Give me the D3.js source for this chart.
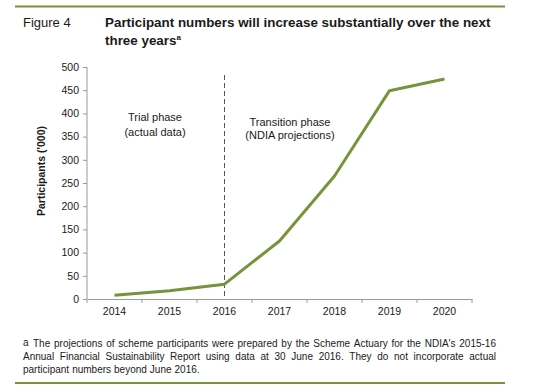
<!DOCTYPE html>
<html><head><meta charset="utf-8">
<script src="https://cdn.jsdelivr.net/npm/d3@7"></script>
<style>
body{margin:0;background:#fff;}
text{font-family:"Liberation Sans",Arial,sans-serif;}
</style></head>
<body><svg id="c" width="537" height="392"></svg>
<script>
const years = ["2014","2015","2016","2017","2018","2019","2020"];
const participants = [8, 18, 32, 125, 265, 449, 474];
const yTicks = [0,50,100,150,200,250,300,350,400,450,500];
const dividerYear = "2016";
const titleLines = ["Participant numbers will increase substantially over the next", "three years"];
const footLines = [
 ["The projections of scheme participants were prepared by the Scheme Actuary for the NDIA's 2015-16", true],
 ["Annual Financial Sustainability Report using data at 30 June 2016. They do not incorporate actual", true],
 ["participant numbers beyond June 2016.", false]
];

const svg = d3.select("#c");
const green = "#77933c";
const ink = "#1a1a1a";

// rules
svg.append("line").attr("x1",15).attr("x2",505).attr("y1",6.5).attr("y2",6.5).attr("stroke",green).attr("stroke-width",2);
svg.append("line").attr("x1",15).attr("x2",505).attr("y1",383).attr("y2",383).attr("stroke",green).attr("stroke-width",2);

// title
svg.append("text").attr("x",23).attr("y",27).attr("font-size",13).attr("fill",ink).text("Figure 4");
svg.append("text").attr("x",105).attr("y",27).attr("font-size",13.4).attr("font-weight","bold").attr("fill",ink).text(titleLines[0]);
const t2 = svg.append("text").attr("x",105).attr("y",45).attr("font-size",13.4).attr("font-weight","bold").attr("fill",ink);
t2.append("tspan").text(titleLines[1]);
t2.append("tspan").attr("font-size",8).attr("dy",-5).text("a");

// scales
const x = d3.scaleBand().domain(years).range([87,472]);
const y = d3.scaleLinear().domain([0,500]).range([299,67]);

// axes
const gy = svg.append("g").attr("transform","translate(87,0)")
  .call(d3.axisLeft(y).tickValues(yTicks).tickSize(4).tickPadding(4));
gy.select(".domain").attr("stroke","#999").attr("d","M0,67V299");
gy.selectAll(".tick line").attr("stroke","#999");
gy.selectAll("text").attr("font-size",10.5).attr("fill",ink).attr("font-family","Liberation Sans, Arial, sans-serif");

const gx = svg.append("g").attr("transform","translate(0,299)")
  .call(d3.axisBottom(x).tickSize(0).tickPadding(9));
gx.select(".domain").attr("stroke","#999");
gx.selectAll("text").attr("font-size",10.5).attr("fill",ink).attr("font-family","Liberation Sans, Arial, sans-serif");
// category boundary ticks
gx.selectAll(".bt").data(years.concat(["end"])).enter().append("line")
  .attr("x1",(d,i)=> i<years.length ? x(d) : x(years[years.length-1])+x.bandwidth())
  .attr("x2",(d,i)=> i<years.length ? x(d) : x(years[years.length-1])+x.bandwidth())
  .attr("y1",0).attr("y2",4).attr("stroke","#999");

// axis title
svg.append("text").attr("transform","translate(45,171) rotate(-90)").attr("text-anchor","middle")
  .attr("font-size",10.5).attr("font-weight","bold").attr("fill",ink).text("Participants ('000)");

// divider
const dx = x(dividerYear)+x.bandwidth()/2;
svg.append("line").attr("x1",dx).attr("x2",dx).attr("y1",75).attr("y2",299)
  .attr("stroke","#555").attr("stroke-dasharray","5,3").attr("stroke-width",1);

// annotations
const ann = [[155,121,"Trial phase"],[155,136,"(actual data)"],[290,126,"Transition phase"],[290,139,"(NDIA projections)"]];
svg.selectAll(".ann").data(ann).enter().append("text").attr("x",d=>d[0]).attr("y",d=>d[1])
  .attr("text-anchor","middle").attr("font-size",11).attr("fill",ink).text(d=>d[2]);

// line
const line = d3.line().x((d,i)=>x(years[i])+x.bandwidth()/2).y(d=>y(d));
svg.append("path").datum(participants).attr("d",line).attr("fill","none")
  .attr("stroke",green).attr("stroke-width",3).attr("stroke-linejoin","round");

// footnote
svg.append("text").attr("x",23).attr("y",346).attr("font-size",10).attr("fill",ink).text("a");
const fl = 33, fr = 496;
footLines.forEach((ln,li)=>{
  const yy = 347 + li*13;
  const x0 = li===0 ? fl : 23;
  const words = ln[0].split(" ");
  const g = svg.append("g");
  const ws = words.map(w=>g.append("text").attr("y",yy).attr("font-size",10).attr("fill",ink).text(w));
  const widths = ws.map(t=>t.node().getComputedTextLength());
  const total = d3.sum(widths);
  const gap = ln[1] ? (fr - x0 - total)/(words.length-1) : 3;
  let cx = x0;
  ws.forEach((t,i)=>{ t.attr("x",cx); cx += widths[i]+gap; });
});
</script></body></html>
